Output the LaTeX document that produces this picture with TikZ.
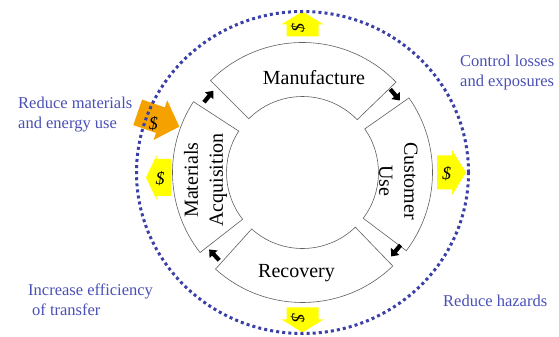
\documentclass[tikz,border=0pt]{standalone}
\usepackage{fontspec}
\setmainfont{Liberation Serif}
\usetikzlibrary{arrows.meta,calc}
\definecolor{dotblue}{HTML}{3B3FA8}
\definecolor{labelblue}{HTML}{4A50B5}
\definecolor{arroworange}{HTML}{F5A200}
\definecolor{arrowyellow}{HTML}{FFFF00}
\definecolor{segline}{HTML}{606060}
% #1 center, #2 rotation, #3 half length, #4 head length, #5 shaft half width, #6 head half width, #7 colour
\newcommand{\barrow}[7]{%
  \fill[#7, shift={#1}, rotate=#2] (-#3,-#5) -- ({#3-#4},-#5) -- ({#3-#4},-#6) -- (#3,0)
    -- ({#3-#4},#6) -- ({#3-#4},#5) -- (-#3,#5) -- cycle;}
\tikzset{
  sector/.style={draw=segline, line width=0.6pt, fill=white},
  seglabel/.style={inner sep=0pt, font=\fontsize{20}{25}\selectfont},
  goal/.style={inner sep=0pt, text=labelblue, align=left, font=\fontsize{16.5}{20.5}\selectfont},
  dollar/.style={inner sep=0pt, font=\fontsize{18}{20}\selectfont\itshape},
  flowarrow/.style={line width=4.2pt, -{Triangle[width=10.5pt,length=6.5pt]}},
  dotring/.style={draw=dotblue, line width=3pt, dash pattern=on 3pt off 3.1pt}
}
\begin{document}
\begin{tikzpicture}[x=1pt,y=1pt]
\useasboundingbox (0,0) rectangle (559,337);
\fill[white] (0,0) rectangle (559,337);
\coordinate (C) at (302.5,164.5);

% ring sectors
\draw[sector] ($(C)+(44:130)$) arc[start angle=44, end angle=135, radius=130]
  -- ($(C)+(135:76)$) arc[start angle=135, end angle=44, radius=76] -- cycle;
\draw[sector] ($(C)+(147:130)$) arc[start angle=147, end angle=218, radius=130]
  -- ($(C)+(218:76)$) arc[start angle=218, end angle=147, radius=76] -- cycle;
\draw[sector] ($(C)+(228:130)$) arc[start angle=228, end angle=314, radius=130]
  -- ($(C)+(314:76)$) arc[start angle=314, end angle=228, radius=76] -- cycle;
\draw[sector] ($(C)+(323:130)$) arc[start angle=323, end angle=395, radius=130]
  -- ($(C)+(395:76)$) arc[start angle=395, end angle=323, radius=76] -- cycle;

% sector labels
\node[seglabel, anchor=base] (manuf) at (314,252) {Manufacture};
\node[seglabel, anchor=base] (recov) at (296.5,59) {Recovery};
\node[seglabel, align=center, rotate=90] (matacq) at (205.5,157) {Materials\\Acquisition};
\node[seglabel, align=center, rotate=-90] (custuse) at (398.5,156) {Customer\\Use};

% flow arrows between sectors (clockwise)
\coordinate (a1s) at ($(C)+(144.5:121)$); \coordinate (a1e) at ($(C)+(137.5:121)$);
\coordinate (a2s) at ($(C)+(43.5:121)$);  \coordinate (a2e) at ($(C)+(36.5:121)$);
\coordinate (a3s) at ($(C)+(-36.5:122)$); \coordinate (a3e) at ($(C)+(-43.5:122)$);
\coordinate (a4s) at ($(C)+(226.5:121)$); \coordinate (a4e) at ($(C)+(219.5:121)$);
\draw[flowarrow] (a1s) -- (a1e);
\draw[flowarrow] (a2s) -- (a2e);
\draw[flowarrow] (a3s) -- (a3e);
\draw[flowarrow] (a4s) -- (a4e);

% dollar block arrows
\barrow{(302.5,313.1)}{90}{12.5}{13}{16}{21}{arrowyellow}
\barrow{(302.5,17)}{-90}{12.5}{13}{16}{21}{arrowyellow}
\barrow{(451.5,164.5)}{0}{14.5}{14}{17}{22.5}{arrowyellow}
\barrow{(158.5,159.5)}{180}{12.5}{10.7}{18.5}{22.5}{arrowyellow}
\barrow{(158.5,217.5)}{-19}{22}{20}{13.5}{21}{arroworange}
\node[dollar, rotate=90] (d1) at (298,309) {\$};
\node[dollar, rotate=-90] (d2) at (298,19) {\$};
\node[dollar] (d3) at (446.7,163.7) {\$};
\node[dollar] (d4) at (160,158.7) {\$};
\node[dollar] (d5) at (153.3,213.7) {\$};

% dotted boundary
\draw[dotring] (C) ellipse[x radius=166, y radius=161];

% goal labels
\node[goal, anchor=north west] (g1) at (18,240.5) {Reduce materials\\and energy use};
\node[goal, anchor=north west] (g2) at (460,282.5) {Control losses\\and exposures};
\node[goal, anchor=north west] (g3) at (28,53.5) {Increase efficiency\\\hspace*{4pt}of transfer};
\node[goal, anchor=base west] (g4) at (443,30) {Reduce hazards};
\end{tikzpicture}
\end{document}
